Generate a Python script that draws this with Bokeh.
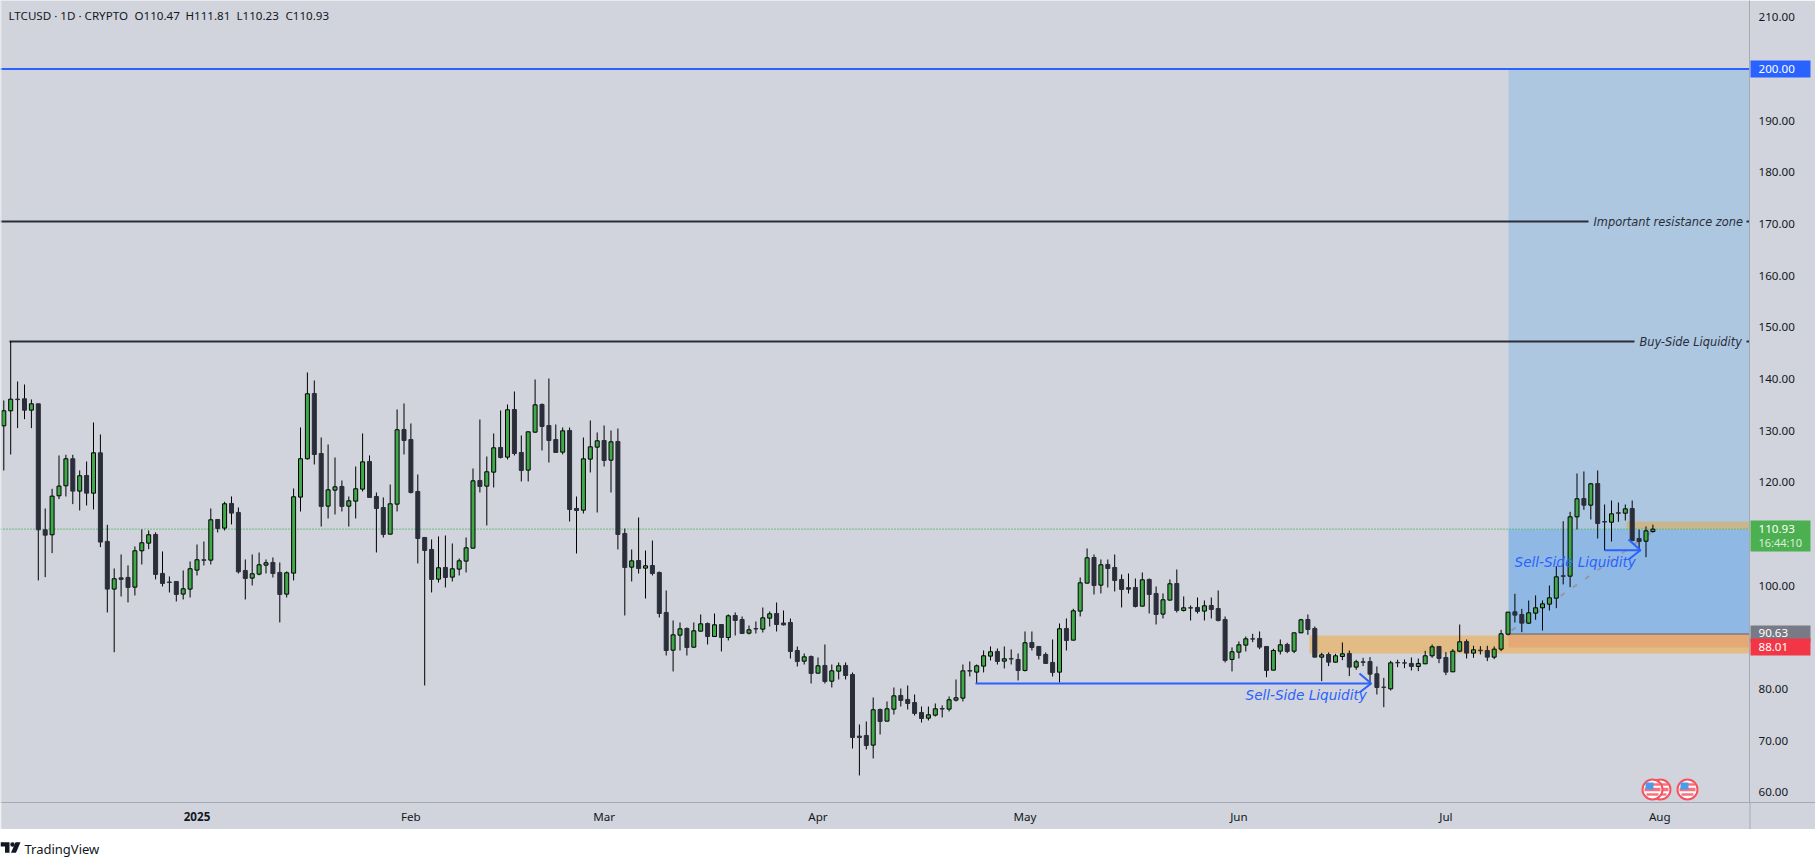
from bokeh.plotting import figure
from bokeh.embed import file_html
from bokeh.resources import INLINE
from bokeh.layouts import column
from bokeh.models import (Range1d, LinearAxis, FixedTicker, PrintfTickFormatter, Label)
from bokeh.core.properties import value

opens = [130.93,133.84,136.1,136.16,133.96,135.19,110.8,109.84,117.38,119.32,
124.55,118.29,121.32,117.9,125.7,108.55,99.32,101.5,101.58,99.7,
106.74,108.22,109.9,102.35,100.7,100.8,98.35,99.32,103.0,105.0,
104.93,112.8,111.13,115.9,114.16,102.93,101.45,102.22,103.96,104.48,
102.55,98.35,102.42,117.13,124.55,137.19,125.57,115.38,118.48,119.19,
115.38,116.35,118.67,124.03,117.25,115.12,109.96,115.77,130.22,128.28,
118.22,109.32,107.0,101.25,103.51,101.64,103.19,104.74,107.25,120.35,
119.25,121.96,126.74,124.87,134.09,125.77,122.35,129.7,135.06,130.99,
128.28,125.83,130.03,114.93,114.6,124.48,126.8,128.09,124.28,127.9,
110.09,103.57,104.86,103.38,103.89,102.54,94.8,87.5,90.41,91.7,
88.08,91.18,92.66,90.15,92.47,89.96,94.21,93.44,90.79,91.67,
91.57,93.7,94.6,92.76,92.86,87.44,85.37,86.28,83.05,84.54,
81.5,83.44,84.54,82.79,70.87,70.99,69.12,76.02,73.76,76.08,
78.73,77.96,77.37,75.44,74.34,74.92,76.2,76.09,77.83,78.22,
83.55,83.25,84.41,86.35,87.25,85.38,85.85,85.7,83.57,88.99,
88.22,86.67,85.12,83.25,91.7,89.44,95.06,100.48,105.44,100.09,
104.09,103.51,101.19,99.6,99.64,96.02,101.19,98.48,94.48,97.19,
100.41,95.19,95.72,95.77,95.06,96.15,95.57,93.44,85.7,87.12,
88.48,89.7,89.77,88.22,83.63,87.31,88.6,87.31,90.86,93.44,
91.7,86.15,86.67,85.18,86.28,86.86,84.22,85.25,85.31,82.93,
80.35,80.02,85.12,85.05,84.93,84.35,84.86,86.41,88.22,86.09,
83.31,87.31,89.18,86.93,87.5,87.44,86.15,87.7,90.6,94.93,
94.41,92.73,94.67,95.7,96.41,97.57,101.9,101.83,113.31,116.86,
115.57,119.76,112.4,112.28,114.1,114.02,114.92,109.12,108.6,110.47]

highs = [135.84,147.32,139.51,138.93,136.03,135.19,114.93,118.74,125.19,125.32,
125.32,122.29,124.03,131.58,129.26,111.77,103.32,106.03,103.9,107.58,
110.87,110.67,110.3,106.61,101.77,100.8,102.93,104.67,107.96,108.54,
114.93,112.8,116.22,117.26,115.13,105.06,106.03,106.41,105.06,105.45,
104.48,102.74,118.8,130.61,141.26,139.71,128.67,127.32,124.8,120.35,
117.25,123.06,129.45,125.19,118.03,117.06,119.57,134.09,135.25,131.38,
121.51,109.32,108.93,109.51,109.7,108.15,105.25,109.32,122.67,132.15,
124.99,129.45,133.9,135.06,137.57,129.06,129.77,139.9,135.25,140.09,
131.19,130.61,130.61,117.25,128.67,131.96,129.64,130.99,130.03,130.41,
111.05,106.99,113.18,106.79,108.73,102.73,99.05,93.25,92.86,91.89,
92.86,94.41,92.86,94.6,92.47,94.41,94.8,94.02,92.28,93.05,
95.76,94.99,96.73,95.18,93.63,88.21,86.86,86.47,86.08,88.6,
84.73,85.12,85.12,83.18,73.12,73.7,78.34,76.21,77.57,80.28,
80.08,80.67,78.92,76.6,76.6,77.18,76.8,78.54,81.83,84.73,
85.31,84.73,87.44,88.22,87.83,88.22,87.64,86.86,91.12,91.12,
88.22,87.06,89.57,92.67,93.64,95.51,101.57,107.19,106.02,105.06,
105.06,106.02,102.15,102.35,101.38,102.54,101.38,99.83,98.48,101.19,
103.12,97.9,96.15,97.7,97.12,97.7,99.06,94.02,88.03,89.19,
90.15,90.67,91.12,88.22,87.77,89.57,88.93,90.86,93.57,94.41,
92.09,86.99,87.06,86.8,88.99,87.44,85.64,86.02,86.15,84.35,
82.15,85.44,85.64,85.7,86.09,85.89,87.38,88.6,88.2,87.12,
87.7,92.47,89.57,88.35,88.28,88.35,88.22,91.44,94.86,98.41,
95.5,97.12,98.09,97.12,100.02,103.76,112.47,114.28,121.7,122.09,
119.89,122.28,115.7,116.47,116.09,115.7,116.47,110.86,111.44,111.81]

lows = [122.29,125.38,130.48,132.22,130.48,101.0,101.64,106.29,116.74,117.25,
115.77,114.55,115.51,114.74,107.45,94.8,87.1,97.9,96.74,98.09,
104.09,107.06,101.2,99.84,98.67,96.93,97.32,97.7,101.96,103.9,
104.09,110.29,110.67,111.84,102.35,97.32,100.03,102.0,102.35,101.58,
92.87,97.7,101.0,114.35,124.4,123.45,111.44,112.99,113.77,114.35,
111.44,112.99,118.22,117.0,106.41,109.32,109.9,114.35,125.38,117.83,
104.28,80.67,98.67,100.6,99.64,100.8,101.96,102.54,107.2,118.03,
111.64,118.99,124.6,124.41,125.19,120.16,120.16,129.6,126.16,123.83,
125.7,125.38,112.41,106.22,113.96,121.9,114.15,123.06,118.03,107.0,
94.22,100.8,102.34,97.5,101.96,93.83,86.47,83.38,87.44,86.47,
88.0,91.1,88.6,90.1,87.25,89.38,90.34,90.7,90.54,90.73,
90.92,92.09,91.12,92.28,85.89,84.34,84.73,81.05,83.0,81.05,
80.28,81.83,81.83,68.47,63.25,68.28,66.54,71.18,73.7,75.05,
76.6,76.02,74.86,73.5,73.89,74.66,74.48,75.64,77.57,77.57,
82.41,81.0,83.19,85.51,84.73,83.96,84.73,81.64,83.38,87.44,
85.7,84.9,82.41,81.25,87.44,89.4,94.03,100.4,98.28,98.48,
99.64,98.86,95.77,98.48,95.77,96.0,94.6,92.48,93.64,97.1,
94.8,94.99,93.25,94.6,93.25,93.64,93.06,85.12,83.38,85.89,
87.25,89.05,87.7,82.28,83.6,86.67,86.93,86.93,90.8,90.47,
86.1,81.5,84.41,85.1,85.57,82.48,83.7,84.41,81.31,78.93,
76.47,79.7,84.22,84.02,83.57,83.44,84.8,86.02,84.99,82.67,
83.3,87.12,85.89,86.02,86.67,85.38,85.77,87.31,90.35,92.86,
90.99,92.6,93.38,91.31,95.18,95.63,100.22,99.7,110.86,114.67,
112.8,109.12,106.8,108.54,112.34,112.6,108.6,106.8,105.5,110.23]

closes = [133.84,136.09,136.0,133.96,135.19,110.8,109.77,117.32,119.26,124.55,
118.29,121.26,117.9,125.7,108.42,99.32,101.32,101.2,99.64,106.74,
108.29,109.84,102.16,100.42,100.6,98.29,99.38,103.26,105.0,104.9,
112.74,111.06,115.84,114.03,102.67,101.38,102.29,104.03,104.42,102.35,
98.29,102.48,117.19,124.55,137.13,125.38,115.32,118.54,119.12,115.32,
116.41,118.74,123.96,117.06,114.93,109.9,115.83,130.16,128.09,118.03,
109.12,106.8,101.19,103.45,101.57,103.25,104.8,107.32,120.28,119.19,
122.03,126.67,124.8,134.03,125.57,122.28,129.77,134.99,130.8,128.09,
125.77,129.96,114.73,114.54,124.54,126.86,128.03,124.22,127.83,109.9,
103.51,104.79,103.31,103.83,102.34,94.6,87.44,90.47,91.63,88.02,
91.25,92.6,90.15,92.41,89.96,94.15,93.25,90.73,91.44,91.6,
93.76,94.54,92.47,92.4,87.25,85.31,86.21,82.99,84.47,81.44,
83.5,84.47,82.6,70.6,70.6,69.05,75.96,73.7,76.15,78.66,
77.76,77.18,75.25,74.28,74.99,76.15,76.1,77.9,78.28,83.5,
83.45,84.47,86.41,87.19,85.31,85.83,85.8,83.57,88.93,88.02,
86.48,84.93,83.19,91.64,89.38,95.12,100.54,105.38,100.02,104.03,
103.31,100.99,99.25,99.3,95.96,101.12,98.28,94.41,97.25,100.35,
95.19,95.7,95.65,94.99,96.09,95.38,93.25,85.51,87.19,88.54,
89.7,89.65,88.09,83.57,87.44,88.54,87.25,90.86,93.38,91.5,
86.15,86.6,85.18,86.41,86.8,84.22,85.25,85.15,82.86,80.28,
80.3,85.05,85.05,85.0,84.35,84.93,86.41,88.15,85.89,83.25,
87.31,89.12,86.93,87.57,87.4,86.15,87.7,90.67,94.86,94.28,
92.73,94.73,95.7,96.47,97.63,101.7,101.8,113.31,116.8,115.57,
119.7,112.02,112.3,113.89,114.0,114.86,108.73,108.54,110.6,110.93]

day_index = list(range(len(closes)))
month_ticks = [28, 59, 87, 118, 148, 179, 209, 240]
month_names = [" ", "Feb", "Mar", "Apr", "May", "Jun", "Jul", "Aug"]
price_ticks = [60, 70, 80, 90, 100, 110, 120, 130, 140, 150, 160, 170, 180, 190, 200, 210]
header_texts = ["LTCUSD · 1D · CRYPTO", "O110.47", "H111.81", "L110.23", "C110.93"]

target_level = 200.0
resistance_level = 170.48
buyside_level = 147.25
entry_level = 90.63
stop_level = 88.01
last_close = 110.93
zone_low_top = 90.34
zone_low_bottom = 86.85
zone_high_top = 112.4
sellside_level = 81.06
sellside_level_2 = 106.85

BG = "#d1d4dc"
DARK = "#2a2e39"
GREEN = "#3fa949"
BLUE = "#2962ff"
AXIS = "#a5a9b4"
INK = "#131722"
SANS = "Noto Sans"
ITALIC = "DejaVu Sans"

W_PLOT, H_PLOT = 1749, 802
PX_DAY = 6.9
PX_PRICE = 5.166
x0 = -3.3 / PX_DAY
y_top = 200 + 68.5 / PX_PRICE
y_bot = 200 - (802 - 68.5) / PX_PRICE
x_end = x0 + W_PLOT / PX_DAY

def dx(px):
    return (px - 3.3) / PX_DAY

def py(px):
    return 200 - (px - 68.5) / PX_PRICE

p = figure(width=1815, height=829, output_backend="svg", toolbar_location=None,
           x_range=Range1d(x0, x_end), y_range=Range1d(y_bot, y_top),
           x_axis_type=None, y_axis_type=None,
           min_border_left=0, min_border_top=0, min_border_right=66, min_border_bottom=27,
           background_fill_color=BG, border_fill_color=BG, outline_line_color=None)
p.grid.visible = False

ya = LinearAxis(ticker=FixedTicker(ticks=price_ticks), formatter=PrintfTickFormatter(format="%.2f"))
ya.major_label_text_font = SANS
ya.major_label_text_font_size = "11.6px"
ya.major_label_text_color = INK
ya.major_tick_line_color = None
ya.minor_tick_line_color = None
ya.axis_line_color = AXIS
ya.major_tick_out = 0
ya.major_tick_in = 0
ya.major_label_standoff = 9
p.add_layout(ya, "right")

xa = LinearAxis(ticker=FixedTicker(ticks=month_ticks),
                major_label_overrides={t: n for t, n in zip(month_ticks, month_names)})
xa.major_label_text_font = SANS
xa.major_label_text_font_size = "11.6px"
xa.major_label_text_color = INK
xa.major_tick_line_color = None
xa.minor_tick_line_color = None
xa.axis_line_color = AXIS
xa.major_tick_out = 0
xa.major_tick_in = 0
xa.major_label_standoff = 6
p.add_layout(xa, "below")

# regions
p.quad(left=[dx(1508)], right=[x_end], bottom=[last_close], top=[target_level], fill_color="#adc7e1", line_color=None)
p.quad(left=[dx(1508)], right=[x_end], bottom=[entry_level], top=[last_close], fill_color="#8fb9e4", line_color=None)
p.quad(left=[dx(1309)], right=[x_end], bottom=[zone_low_bottom], top=[zone_low_top], fill_color="#e2bb85", line_color=None)
p.quad(left=[dx(1508)], right=[x_end], bottom=[stop_level], top=[entry_level], fill_color="#e5a975", line_color=None)
p.quad(left=[dx(1626)], right=[x_end], bottom=[last_close], top=[zone_high_top], fill_color="#c8b78e", line_color=None)

# levels
p.segment(x0=[x0], x1=[x_end], y0=[target_level], y1=[target_level], line_color=BLUE, line_width=2)
p.segment(x0=[x0, dx(1746)], x1=[dx(1588), x_end], y0=[resistance_level] * 2, y1=[resistance_level] * 2, line_color=DARK, line_width=2)
p.segment(x0=[dx(9), dx(1746)], x1=[dx(1634), x_end], y0=[buyside_level] * 2, y1=[buyside_level] * 2, line_color=DARK, line_width=2)
p.segment(x0=[dx(1508)], x1=[x_end], y0=[entry_level], y1=[entry_level], line_color="#787b86", line_width=1.5)
p.segment(x0=[dx(1511)], x1=[dx(1655)], y0=[py(630)], y1=[py(529)], line_color="#9598a1", line_width=2, line_dash="5 10")
p.segment(x0=[x0], x1=[x_end], y0=[last_close], y1=[last_close], line_color="#2fb344", line_width=1.3, line_dash="1 2")

# candles
up_idx = [i for i in day_index if closes[i] >= opens[i]]
dn_idx = [i for i in day_index if closes[i] < opens[i]]
p.segment(x0=day_index, x1=day_index, y0=lows, y1=highs, line_color="#000000", line_width=1)
p.vbar(x=dn_idx, width=4.0 / PX_DAY, bottom=[closes[i] for i in dn_idx], top=[opens[i] for i in dn_idx],
       fill_color=DARK, line_color=DARK, line_width=1)
p.vbar(x=up_idx, width=4.0 / PX_DAY, bottom=[opens[i] for i in up_idx], top=[closes[i] for i in up_idx],
       fill_color=GREEN, line_color="#000000", line_width=1)

# arrows
p.line(x=[dx(975), dx(1370.7)], y=[sellside_level] * 2, line_color=BLUE, line_width=2)
p.line(x=[dx(1359), dx(1370.7), dx(1359)], y=[py(673), sellside_level, py(692)], line_color=BLUE, line_width=2)
p.line(x=[dx(1604.3), dx(1640)], y=[sellside_level_2] * 2, line_color=BLUE, line_width=2)
p.line(x=[dx(1628), dx(1640), dx(1628)], y=[py(539), sellside_level_2, py(559)], line_color=BLUE, line_width=2)

def note(text, px, pyy, color, size):
    p.add_layout(Label(x=dx(px), y=py(pyy), text=text, text_color=color, text_font=ITALIC,
                       text_font_style="italic", text_font_size=size, text_baseline="middle", text_align="left"))

note("Sell-Side Liquidity", 1245, 694, BLUE, "13.6px")
note("Sell-Side Liquidity", 1514, 561, BLUE, "13.6px")
note("Important resistance zone", 1593, 221, DARK, "11.4px")
note("Buy-Side Liquidity", 1639, 341, DARK, "11.4px")

# calendar event flags
flag_x = [1660, 1652, 1687]
flag_y = 789
for fx in flag_x:
    p.scatter(x=[dx(fx)], y=[py(flag_y)], size=20, marker="circle", fill_color="#ffffff", line_color="#f7525f", line_width=2)
    p.rect(x=[dx(fx)], y=[py(flag_y)], width=16, height=3.5, width_units="screen", height_units="screen", fill_color="#f7727c", line_color=None)
    p.rect(x=[dx(fx + 3.5)], y=[py(flag_y - 5)], width=8, height=2.5, width_units="screen", height_units="screen", fill_color="#f7727c", line_color=None)
    p.rect(x=[dx(fx)], y=[py(flag_y + 5)], width=12, height=2.5, width_units="screen", height_units="screen", fill_color="#f7727c", line_color=None)
    p.rect(x=[dx(fx - 3)], y=[py(flag_y - 3.5)], width=8, height=7, width_units="screen", height_units="screen", fill_color="#4a9bea", line_color=None)

# header
for txt, lx in zip(header_texts, [8, 134, 185, 236, 285]):
    p.add_layout(Label(x=lx, y=py(15), x_units="screen", text=txt, text_font=SANS,
                       text_font_size="11.6px", text_color=INK, text_baseline="middle"))

# transparent layer over the axes for the price tags
o = figure(width=1815, height=829, frame_width=1815, frame_height=829, output_backend="svg", toolbar_location=None,
           x_range=Range1d(0, 1815), y_range=Range1d(py(829), py(0)), x_axis_type=None, y_axis_type=None,
           min_border=0, min_border_left=0, min_border_right=0, min_border_top=0, min_border_bottom=0,
           background_fill_alpha=0, border_fill_alpha=0, outline_line_color=None, margin=(-829, 0, 0, 0))
o.grid.visible = False

def box(l, r, top, bottom, color):
    o.quad(left=[l], right=[r], top=[py(top)], bottom=[py(bottom)], fill_color=color, line_color=None)

box(1749, 1815, 801.5, 802.5, AXIS)
box(1749, 1750, 802, 829, AXIS)
box(0, 1, 0, 829, "#e3e5ea")
box(1750, 1810, 60, 77, BLUE)
box(1750, 1810, 520, 551, "#4caf50")
box(1750, 1810, 625, 642, "#787b86")
box(1750, 1810, 638, 655, "#f23645")

for txt, ty, size, col in [("200.00", 68.5, "11.6px", "#ffffff"), ("110.93", 528.5, "11.6px", "#ffffff"),
                           ("16:44:10", 542, "11px", "#dcefdc"), ("90.63", 632, "11.6px", "#ffffff"),
                           ("88.01", 646.5, "11.6px", "#ffffff")]:
    o.text(x=[1758], y=[py(ty)], text=[txt], text_font=value(SANS), text_font_size=size,
           text_color=col, text_baseline="middle", text_align="left")

o.text(x=[3.3 + month_ticks[0] * PX_DAY], y=[py(815.5)], text=["2025"], text_font=value(SANS),
       text_font_style="bold", text_font_size="11.6px", text_color=INK, text_baseline="middle", text_align="center")

# footer with TradingView mark
f = figure(width=1815, height=36, frame_width=1815, frame_height=36, output_backend="svg", toolbar_location=None,
           x_range=Range1d(0, 1815), y_range=Range1d(36, 0), x_axis_type=None, y_axis_type=None,
           min_border=0, min_border_left=0, min_border_right=0, min_border_top=0, min_border_bottom=0,
           background_fill_color="#ffffff", border_fill_color="#ffffff", outline_line_color=None)
f.grid.visible = False
f.patch([0, 9, 9, 4.5, 4.5, 0], [12.7, 12.7, 23.3, 23.3, 17, 17], fill_color=INK, line_color=None)
f.scatter([12], [15], size=4.5, marker="circle", fill_color=INK, line_color=None)
f.patch([15, 20, 15.5, 10.5], [12.7, 12.7, 23.3, 23.3], fill_color=INK, line_color=None)
f.text(x=[24], y=[19], text=["TradingView"], text_font=value(SANS), text_font_size="13px",
       text_color=INK, text_baseline="middle", text_align="left")

page = column(p, o, f, spacing=0, margin=(0, 0, 0, 0))
open("out.html", "w").write(file_html(page, INLINE))
